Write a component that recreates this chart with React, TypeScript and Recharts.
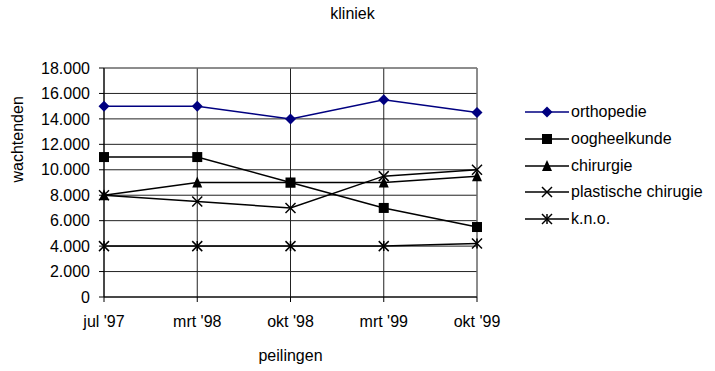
import React from 'react';
import { LineChart, Line, XAxis, YAxis, CartesianGrid, ReferenceLine } from 'recharts';

const peilingen = ["jul '97", "mrt '98", "okt '98", "mrt '99", "okt '99"];
const orthopedie = [15000, 15000, 14000, 15500, 14500];
const oogheelkunde = [11000, 11000, 9000, 7000, 5500];
const chirurgie = [8000, 9000, 9000, 9000, 9500];
const plastischeChirugie = [8000, 7500, 7000, 9500, 10000];
const kno = [4000, 4000, 4000, 4000, 4200];
const yTicks = [0, 2000, 4000, 6000, 8000, 10000, 12000, 14000, 16000, 18000];

const data = peilingen.map((p, i) => ({
  peiling: p,
  orthopedie: orthopedie[i],
  oogheelkunde: oogheelkunde[i],
  chirurgie: chirurgie[i],
  plastisch: plastischeChirugie[i],
  kno: kno[i],
}));

const FONT = '"Liberation Sans", Arial, sans-serif';
const FS = 16;
const fmt = (v: number) => v.toLocaleString('de-DE');

type Shape = 'diamond' | 'square' | 'triangle' | 'cross' | 'star';

const Marker = ({ cx, cy, shape, color }: { cx: number; cy: number; shape: Shape; color: string }) => {
  const r = 5;
  switch (shape) {
    case 'diamond':
      return <polygon points={`${cx},${cy - r - 0.5} ${cx + r + 0.5},${cy} ${cx},${cy + r + 0.5} ${cx - r - 0.5},${cy}`} fill={color} />;
    case 'square':
      return <rect x={cx - r} y={cy - r} width={r * 2} height={r * 2} fill={color} />;
    case 'triangle':
      return <polygon points={`${cx},${cy - r - 1} ${cx + r},${cy + r} ${cx - r},${cy + r}`} fill={color} />;
    case 'cross':
      return (
        <g stroke={color} strokeWidth={1.5}>
          <line x1={cx - r} y1={cy - r} x2={cx + r} y2={cy + r} />
          <line x1={cx - r} y1={cy + r} x2={cx + r} y2={cy - r} />
        </g>
      );
    default:
      return (
        <g stroke={color} strokeWidth={1.5}>
          <line x1={cx - r} y1={cy - r} x2={cx + r} y2={cy + r} />
          <line x1={cx - r} y1={cy + r} x2={cx + r} y2={cy - r} />
          <line x1={cx} y1={cy - r} x2={cx} y2={cy + r} />
        </g>
      );
  }
};

const series: { key: string; name: string; color: string; shape: Shape }[] = [
  { key: 'orthopedie', name: 'orthopedie', color: '#000080', shape: 'diamond' },
  { key: 'oogheelkunde', name: 'oogheelkunde', color: '#000000', shape: 'square' },
  { key: 'chirurgie', name: 'chirurgie', color: '#000000', shape: 'triangle' },
  { key: 'plastisch', name: 'plastische chirugie', color: '#000000', shape: 'cross' },
  { key: 'kno', name: 'k.n.o.', color: '#000000', shape: 'star' },
];

// legend sits to the right of the plot area, outside the svg
const LegendBox = () => (
  <div style={{ position: 'absolute', left: 525, top: 98.6, fontFamily: FONT, fontSize: FS, color: '#000' }}>
    {series.map((s) => (
      <div key={s.key} style={{ display: 'flex', alignItems: 'center', height: 26.8, whiteSpace: 'nowrap' }}>
        <svg width={46} height={16}>
          <line x1={0} y1={8} x2={44} y2={8} stroke={s.color} strokeWidth={1.5} />
          <Marker cx={22} cy={8} shape={s.shape} color={s.color} />
        </svg>
        <span>{s.name}</span>
      </div>
    ))}
  </div>
);

export default function App() {
  return (
    <div style={{ position: 'absolute', left: 0, top: 0, width: 715, height: 371, background: '#fff' }}>
      <div style={{ position: 'absolute', top: 5, left: 0, width: 705, textAlign: 'center', fontFamily: FONT, fontSize: FS }}>
        kliniek
      </div>
      <LineChart width={715} height={371} data={data} margin={{ top: 68, right: 238, left: 0, bottom: 0 }}>
        <CartesianGrid stroke="#222" strokeWidth={1} />
        <XAxis
          dataKey="peiling"
          height={74}
          stroke="#000"
          tickSize={5}
          tickMargin={14}
          interval={0}
          tick={{ fill: '#000', fontFamily: FONT, fontSize: FS }}
          label={{ value: 'peilingen', position: 'insideBottom', offset: 10, fill: '#000', fontFamily: FONT, fontSize: FS }}
        />
        <YAxis
          width={104}
          domain={[0, 18000]}
          ticks={yTicks}
          interval={0}
          stroke="#000"
          tickSize={5}
          tickMargin={9}
          tickFormatter={fmt}
          tick={{ fill: '#000', fontFamily: FONT, fontSize: FS }}
          label={{ value: 'wachtenden', angle: -90, position: 'insideLeft', offset: 17, fill: '#000', fontFamily: FONT, fontSize: FS }}
        />
        <ReferenceLine y={18000} stroke="#888" />
        <ReferenceLine x="okt '99" stroke="#888" />
        {series.map((s) => (
          <Line
            key={s.key}
            dataKey={s.key}
            name={s.name}
            type="linear"
            stroke={s.color}
            strokeWidth={1.5}
            isAnimationActive={false}
            dot={(p: any) => <Marker key={`${s.key}-${p.index}`} cx={p.cx} cy={p.cy} shape={s.shape} color={s.color} />}
            activeDot={false}
          />
        ))}
      </LineChart>
      <LegendBox />
    </div>
  );
}
